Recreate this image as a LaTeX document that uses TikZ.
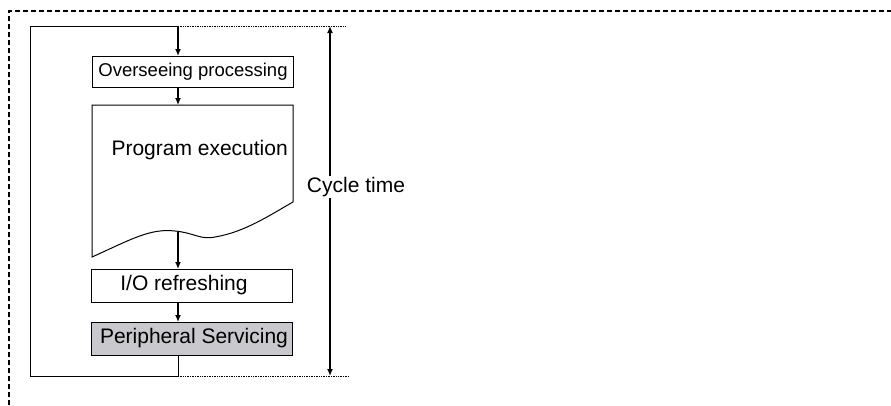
\documentclass[tikz,border=0pt]{standalone}
\usepackage{fontspec}
\setmainfont{Liberation Sans}
\usetikzlibrary{arrows.meta}
\begin{document}
\begin{tikzpicture}[x=1pt,y=-1pt,
  box/.style={draw, line width=1pt, minimum width=201pt, anchor=north west, inner sep=0pt},
  flow/.style={line width=1.5pt, -{Latex[length=7pt,width=6pt]}},
  loopline/.style={line width=1pt},
  ext/.style={line width=0.7pt, densely dotted},
  frame/.style={line width=1.1pt, dash pattern=on 5pt off 3pt},
  lbl/.style={font=\fontsize{21}{24}\selectfont}]
\useasboundingbox (0,0) rectangle (891,405);
% dashed frame
\draw[frame] (9,405) -- (9,11) -- (891,11);
% boxes
\node[box, minimum height=31pt, font=\fontsize{18.5}{22}\selectfont] (over) at (92,56) {Overseeing processing};
\draw[line width=1pt] (92,105) -- (293,105) -- (293,202)
  .. controls (270,215) and (245,232) .. (215,237)
  .. controls (200,240) and (195,233) .. (175,231)
  .. controls (150,228) and (130,240) .. (92,257) -- cycle;
\coordinate (progtop) at (178,105);
\coordinate (wave) at (178,231);
\node[lbl, anchor=west] (prog) at (108,150) {Program execution};
\node[box, minimum height=33pt] (io) at (91,269) {};
\node[lbl] (iotext) at (184,285.5) {I/O refreshing};
\node[box, minimum height=33pt, fill={rgb,255:red,200;green,200;blue,205}] (peri) at (91,322) {};
\node[lbl] (peritext) at (194,338.5) {Peripheral Servicing};
% loop
\coordinate (tl) at (30,26);
\coordinate (tm) at (178,26);
\coordinate (bl) at (30,376);
\coordinate (bm) at (178,376);
\coordinate (tr) at (346,26);
\coordinate (br) at (349,376);
\draw[loopline] (peri.south -| bm) -- (bm) -- (bl) -- (tl) -- (tm);
\draw[ext] (tm) -- (tr);
\draw[ext] (bm) -- (br);
% flow arrows
\draw[flow] (tm) -- (over.north -| tm);
\draw[flow] (over.south -| tm) -- (progtop);
\draw[flow] (wave) -- (io.north -| wave);
\draw[flow] (io.south -| tm) -- (peri.north -| tm);
% cycle time
\coordinate (ct) at (330,26);
\coordinate (cb) at (330,376);
\draw[line width=1.5pt, {Latex[length=7pt,width=6pt]}-{Latex[length=7pt,width=6pt]}] (ct) -- (cb);
\node[lbl, fill=white, inner sep=1pt] (cycle) at (356,187) {Cycle time};
\end{tikzpicture}
\end{document}
